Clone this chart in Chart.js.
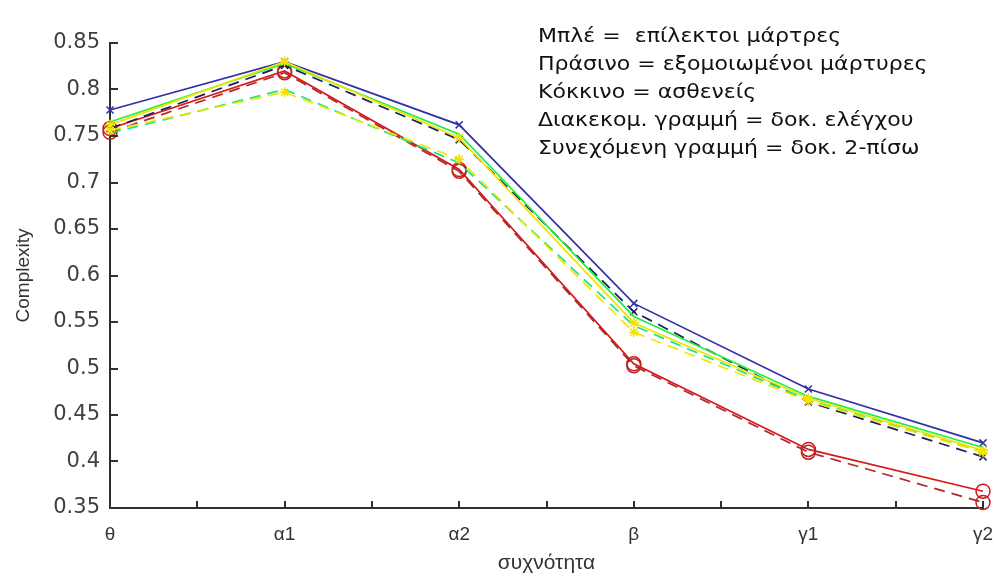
<!DOCTYPE html>
<html>
<head>
<meta charset="utf-8">
<script src="https://cdn.jsdelivr.net/npm/chart.js@4.4.1/dist/chart.umd.min.js"></script>
<style>
  html, body { margin: 0; padding: 0; background: #ffffff; }
  #wrap { width: 994px; height: 577px; position: relative; }
</style>
</head>
<body>
<div id="wrap"><canvas id="c" width="994" height="577"></canvas></div>
<script>
// Frequency bands along the x axis
const bands = ['θ', 'α1', 'α2', 'β', 'γ1', 'γ2'];

// Complexity per band; "solid" = 2-back task, "dashed" = control task
const blueSolid   = [0.778, 0.830, 0.762, 0.570, 0.478, 0.420];
const blueDashed  = [0.758, 0.826, 0.746, 0.561, 0.464, 0.405];
const greenSolid  = [0.765, 0.828, 0.752, 0.556, 0.470, 0.415];
const greenDashed = [0.753, 0.800, 0.721, 0.546, 0.466, 0.411];
const yellowSolid = [0.762, 0.830, 0.748, 0.549, 0.468, 0.412];
const yellowDashed= [0.756, 0.797, 0.725, 0.539, 0.465, 0.410];
const redSolid    = [0.758, 0.820, 0.714, 0.505, 0.413, 0.368];
const redDashed   = [0.754, 0.818, 0.712, 0.503, 0.410, 0.356];

// Y ticks every 0.05 from 0.35 to 0.85
const yMin = 0.35, yMax = 0.85, yStep = 0.05;

// Text block in the upper right
const noteLines = [
  'Μπλέ =  επίλεκτοι μάρτρες',
  'Πράσινο = εξομοιωμένοι μάρτυρες',
  'Κόκκινο = ασθενείς',
  'Διακεκομ. γραμμή = δοκ. ελέγχου',
  'Συνεχόμενη γραμμή = δοκ. 2-πίσω'
];

const toPoints = arr => arr.map((v, i) => ({ x: i, y: v }));
const dash = [11, 7];

function series(label, values, color, opts) {
  return Object.assign({
    label: label,
    data: toPoints(values),
    borderColor: color,
    backgroundColor: 'rgba(0,0,0,0)',
    borderWidth: 1.7,
    pointRadius: 0,
    pointBorderColor: color,
    pointBorderWidth: 1.5,
    tension: 0,
    clip: false
  }, opts || {});
}

const datasets = [
  series('yellow dashed', yellowDashed, '#f2e400', { borderDash: dash, pointStyle: 'star', pointRadius: 5 }),
  series('yellow solid', yellowSolid, '#f2e400', { pointStyle: 'star', pointRadius: 5 }),
  series('green dashed', greenDashed, '#10e888', { borderDash: dash }),
  series('green solid', greenSolid, '#22ee44'),
  series('blue dashed', blueDashed, '#1c1c60', { borderDash: dash, pointStyle: 'crossRot', pointRadius: 5 }),
  series('blue solid', blueSolid, '#3030a8', { pointStyle: 'crossRot', pointRadius: 5 }),
  series('red dashed', redDashed, '#b02828', { borderDash: dash, pointStyle: 'circle', pointRadius: 7 }),
  series('red solid', redSolid, '#d81818', { pointStyle: 'circle', pointRadius: 7 })
];

// Inward tick marks on both axes
const inwardTicks = {
  id: 'inwardTicks',
  afterDatasetsDraw(chart) {
    const ctx = chart.ctx;
    const xs = chart.scales.x, ys = chart.scales.y;
    const area = chart.chartArea;
    ctx.save();
    ctx.strokeStyle = '#303030';
    ctx.lineWidth = 2;
    ctx.beginPath();
    xs.ticks.forEach(t => {
      const px = Math.round(xs.getPixelForValue(t.value));
      ctx.moveTo(px, area.bottom);
      ctx.lineTo(px, area.bottom - 7);
    });
    ys.ticks.forEach(t => {
      const py = Math.round(ys.getPixelForValue(t.value));
      ctx.moveTo(area.left, py);
      ctx.lineTo(area.left + 8, py);
    });
    ctx.stroke();
    ctx.restore();
  }
};

// Colour / line-style key as plain text
const noteText = {
  id: 'noteText',
  afterDraw(chart) {
    const ctx = chart.ctx;
    ctx.save();
    ctx.fillStyle = '#111111';
    ctx.font = '19px "DejaVu Sans", sans-serif';
    ctx.textBaseline = 'middle';
    ctx.textAlign = 'left';
    ctx.translate(538, 0);
    ctx.scale(1.16, 1);
    noteLines.forEach((line, i) => {
      ctx.fillText(line, 0, 37 + i * 28);
    });
    ctx.restore();
  }
};

new Chart(document.getElementById('c'), {
  type: 'line',
  data: { datasets: datasets },
  plugins: [inwardTicks, noteText],
  options: {
    responsive: false,
    animation: false,
    events: [],
    layout: { padding: { top: 43, right: 11, left: 0, bottom: 0 } },
    plugins: { legend: { display: false }, tooltip: { enabled: false } },
    scales: {
      x: {
        type: 'linear',
        min: 0,
        max: bands.length - 1,
        grid: { display: false, drawTicks: false, tickLength: 0 },
        border: { display: true, color: '#303030', width: 2 },
        ticks: {
          stepSize: 0.5,
          autoSkip: false,
          maxRotation: 0,
          padding: 15,
          color: '#333333',
          font: { family: '"Liberation Sans Narrow", "Liberation Sans", sans-serif', size: 19 },
          callback: v => Number.isInteger(v) ? bands[v] : ''
        },
        title: {
          display: true,
          text: 'συχνότητα',
          color: '#333333',
          font: { family: '"Liberation Sans Narrow", "Liberation Sans", sans-serif', size: 21 },
          padding: { top: 0, bottom: 1 }
        },
        afterFit(scale) {
          scale.height = 69;
          scale.paddingLeft = 0;
          scale.paddingRight = 0;
        }
      },
      y: {
        min: yMin,
        max: yMax,
        grid: { display: false, drawTicks: false, tickLength: 0 },
        border: { display: true, color: '#303030', width: 2 },
        ticks: {
          stepSize: yStep,
          padding: 10,
          color: '#404040',
          font: { family: '"DejaVu Sans", sans-serif', size: 21 },
          callback: v => String(Number(v.toFixed(2)))
        },
        title: {
          display: true,
          text: 'Complexity',
          color: '#333333',
          font: { family: '"Liberation Sans Narrow", "Liberation Sans", sans-serif', size: 19 },
          padding: { top: 12, bottom: 0 }
        },
        afterFit(scale) {
          scale.width = 110;
          scale.paddingTop = 0;
          scale.paddingBottom = 0;
        }
      }
    }
  }
});
</script>
</body>
</html>
